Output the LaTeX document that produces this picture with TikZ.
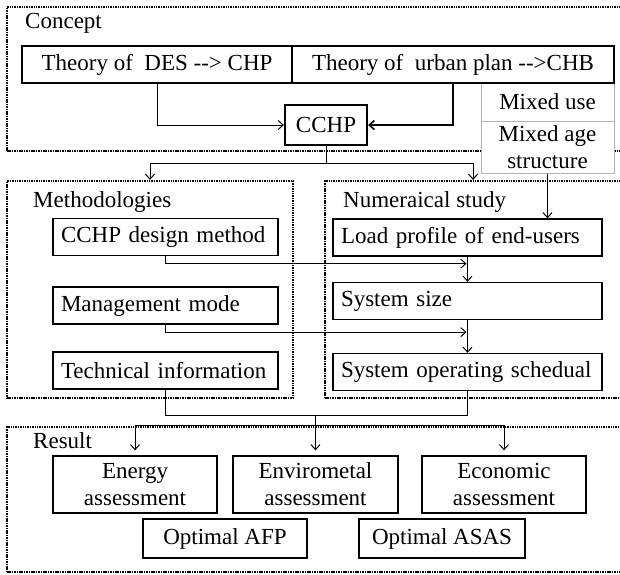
\documentclass[tikz,border=0pt]{standalone}
\usepackage{fontspec}
\setmainfont{Liberation Serif}
\usetikzlibrary{positioning,arrows.meta,calc}

\begin{document}
\begin{tikzpicture}[x=1pt,y=-1pt,font=\fontsize{23}{27}\selectfont,
  b/.style={draw,fill=white,line width=1.3pt,inner sep=0pt,align=center,minimum height=37pt},
  lb/.style={b,align=left,inner xsep=8pt},
  bb/.style={b,line width=2.2pt},
  mx/.style={draw=black!30,fill=white,line width=1pt,inner sep=0pt,align=center,minimum width=133pt},
  grp/.style={draw,line width=2.2pt,dash pattern=on 1.5pt off 0.9pt,inner sep=0pt},
  lbl/.style={anchor=base west,inner sep=0pt},
  a/.style={-{Straight Barb[length=5pt,width=9pt]},line width=1pt}]
  \useasboundingbox (0,0) rectangle (620,574);
  \clip (0,0) rectangle (620,574);

  % dotted group frames
  \node[grp,minimum width=614pt,minimum height=144pt] (concept) at (314,79) {};
  \node[grp,minimum width=286pt,minimum height=217pt] (meth) at (150,289.5) {};
  \node[grp,minimum width=296pt,minimum height=217pt] (num) at (473,289.5) {};
  \node[grp,minimum width=614pt,minimum height=145pt] (result) at (314,499.5) {};
  \node[lbl] (conceptlbl) at (25,28) {Concept};
  \node[lbl] (methlbl) at (33,207) {Methodologies};
  \node[lbl] (numlbl) at (343,207) {Numeraical study};
  \node[lbl] (resultlbl) at (33,448) {Result};

  % concept
  \node[mx,minimum height=38pt] (mixuse) at (547.5,102) {Mixed use};
  \node[mx,minimum height=52pt] (mixage) at (547.5,147) {Mixed age\\structure};
  \node[b,minimum width=270pt] (des) at (157,64.5) {Theory of\ \ DES -{}-> CHP};
  \node[b,minimum width=322pt] (urb) at (453,64.5) {Theory of\ \ urban plan -{}->CHB};
  \node[bb,minimum width=82pt,minimum height=40pt] (cchp) at (326,125) {CCHP};

  % methodologies
  \node[lb,text width=209pt] (design) at (165.5,237) {CCHP design method};
  \node[lb,text width=209pt] (manage) at (165.5,305.5) {Management mode};
  \node[lb,text width=209pt] (tech) at (165.5,370.5) {Technical information};

  % numerical study
  \node[lb,text width=253pt] (load) at (467.5,237.5) {Load profile of end-users};
  \node[lb,text width=253pt] (size) at (467.5,301) {System size};
  \node[lb,text width=253pt] (sched) at (467.5,372) {System operating schedual};

  % result
  \node[b,minimum width=164pt,minimum height=57pt] (energy) at (135,484.5) {Energy\\assessment};
  \node[b,minimum width=165pt,minimum height=57pt] (env) at (315.5,484.5) {Envirometal\\assessment};
  \node[b,minimum width=164pt,minimum height=57pt] (econ) at (504,484.5) {Economic\\assessment};
  \node[bb,minimum width=164pt,minimum height=39pt] (afp) at (225,538.5) {Optimal AFP};
  \node[bb,minimum width=166pt,minimum height=39pt] (asas) at (442,538.5) {Optimal ASAS};

  % connectors
  \draw[a] (des.south) |- (cchp.west);
  \draw[a,line width=1.6pt] (urb.south) |- (cchp.east);
  \coordinate (split) at (326,163);
  \draw[line width=1pt] (cchp.south) -- (split);
  \draw[a] (split) -| (meth.north);
  \draw[a] (split) -| (num.north);
  \draw[a] (mixage.south) -- (mixage.south |- load.north);
  \draw[a] (design.south) |- ($(load.south)+(-1,7)$);
  \draw[a] (load) -- (size);
  \draw[a] (manage.south) |- ($(size.south)+(-1,12)$);
  \draw[a] (size) -- (sched);
  \coordinate (join) at (315.5,415);
  \draw[line width=1pt] (tech.south) |- (join);
  \draw[line width=1pt] (sched.south) |- (join);
  \draw[a,shorten >=5pt] (join) -- (env.north);
  \draw[a,shorten >=5pt] (join |- result.north) -| (energy.north);
  \draw[a,shorten >=5pt] (join |- result.north) -| (econ.north);
\end{tikzpicture}
\end{document}
